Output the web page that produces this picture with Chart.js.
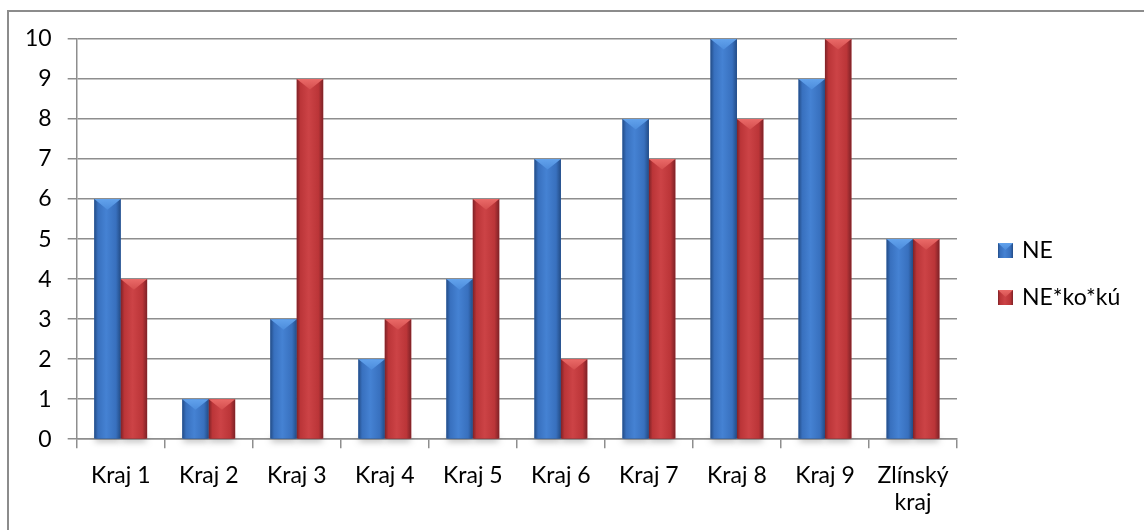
<!DOCTYPE html>
<html>
<head>
<meta charset="utf-8">
<script src="https://cdn.jsdelivr.net/npm/chart.js@4"></script>
<style>
  html, body { margin: 0; padding: 0; background: #fff; }
  #wrap { width: 1144px; height: 530px; }
</style>
</head>
<body>
<div id="wrap"><canvas id="cvs" width="1144" height="530"></canvas></div>
<script>
//-------------------------------------------------------------------
// data
//-------------------------------------------------------------------
const categories = ['Kraj 1', 'Kraj 2', 'Kraj 3', 'Kraj 4', 'Kraj 5',
                    'Kraj 6', 'Kraj 7', 'Kraj 8', 'Kraj 9', ['Zlínský', 'kraj']];
const seriesNames = ['NE', 'NE*ko*kú'];
const valuesNE = [6, 1, 3, 2, 4, 7, 8, 10, 9, 5];
const valuesNEkoku = [4, 1, 9, 3, 6, 2, 7, 8, 10, 5];
const yTicks = [0, 1, 2, 3, 4, 5, 6, 7, 8, 9, 10];

const FONT = 'Lato';
const FONT_SIZE = 23;

// bevel palettes: edge, body, highlight, top facet
const palettes = [
  { edge: '#234c86', body: '#3870be', light: '#4582d3', top: '#62a2ec', topDark: '#4c8cdc' },
  { edge: '#7e2227', body: '#bb3538', light: '#cc4346', top: '#ea6a68', topDark: '#d44e4e' }
];

//-------------------------------------------------------------------
// drawing helpers
//-------------------------------------------------------------------
function drawBevelBar(ctx, left, right, top, bottom, pal, facet) {
  const w = right - left;
  const h = bottom - top;
  if (w <= 0 || h <= 0) return;

  const body = ctx.createLinearGradient(left, 0, right, 0);
  body.addColorStop(0, pal.edge);
  body.addColorStop(0.14, pal.body);
  body.addColorStop(0.45, pal.light);
  body.addColorStop(0.82, pal.body);
  body.addColorStop(1, pal.edge);
  ctx.fillStyle = body;
  ctx.fillRect(left, top, w, h);

  // lighter facet across the top
  const depth = Math.min(h, facet);
  const topGrad = ctx.createLinearGradient(0, top, 0, top + depth);
  topGrad.addColorStop(0, pal.top);
  topGrad.addColorStop(1, pal.topDark);
  ctx.fillStyle = topGrad;
  ctx.beginPath();
  ctx.moveTo(left, top);
  ctx.lineTo(right, top);
  ctx.lineTo(left + w / 2, top + depth);
  ctx.closePath();
  ctx.fill();
}

function makeLegendIcon(pal) {
  const c = document.createElement('canvas');
  c.width = 15; c.height = 15;
  drawBevelBar(c.getContext('2d'), 0, 15, 0, 15, pal, 7);
  return c;
}

//-------------------------------------------------------------------
// plugins
//-------------------------------------------------------------------
const framePlugin = {
  id: 'frame',
  beforeDraw(chart) {
    const ctx = chart.ctx;
    ctx.save();
    ctx.fillStyle = '#ffffff';
    ctx.fillRect(0, 0, chart.width, chart.height);
    ctx.strokeStyle = '#8c8c8c';
    ctx.lineWidth = 2;
    ctx.strokeRect(8, 11, 1300, 700);
    ctx.restore();
  }
};

const bevelPlugin = {
  id: 'bevel',
  afterDatasetsDraw(chart) {
    const ctx = chart.ctx;
    ctx.save();
    chart.data.datasets.forEach((ds, di) => {
      const meta = chart.getDatasetMeta(di);
      meta.data.forEach(bar => {
        const p = bar.getProps(['x', 'y', 'base', 'width'], true);
        const left = p.x - p.width / 2;
        const right = p.x + p.width / 2;
        // soft shadow under the bar foot
        ctx.save();
        ctx.shadowColor = 'rgba(0,0,0,0.35)';
        ctx.shadowBlur = 6;
        ctx.shadowOffsetY = 3;
        ctx.fillStyle = palettes[di].edge;
        ctx.fillRect(left + 1, p.base - 4, p.width - 2, 4);
        ctx.restore();
        drawBevelBar(ctx, left, right, p.y, p.base, palettes[di], p.width * 0.4);
      });
    });
    ctx.restore();
  }
};

const legendPlugin = {
  id: 'sideLegend',
  afterDraw(chart) {
    const ctx = chart.ctx;
    ctx.save();
    ctx.font = FONT_SIZE + 'px ' + FONT;
    ctx.fillStyle = '#000';
    ctx.textBaseline = 'middle';
    chart.data.datasets.forEach((ds, i) => {
      const cy = 250 + i * 47;
      ctx.drawImage(legendIcons[i], 998, cy - 7);
      ctx.fillText(ds.label, 1022, cy + 1);
    });
    ctx.restore();
  }
};

const legendIcons = palettes.map(makeLegendIcon);

//-------------------------------------------------------------------
// chart
//-------------------------------------------------------------------
const gridColor = '#8e8e8e';

new Chart(document.getElementById('cvs'), {
  type: 'bar',
  data: {
    labels: categories,
    datasets: [
      { label: seriesNames[0], data: valuesNE, backgroundColor: palettes[0].body },
      { label: seriesNames[1], data: valuesNEkoku, backgroundColor: palettes[1].body }
    ]
  },
  options: {
    responsive: false,
    animation: false,
    devicePixelRatio: 1,
    datasets: {
      bar: { categoryPercentage: 0.6, barPercentage: 1.0, borderWidth: 0 }
    },
    layout: { padding: { top: 39, left: 9, right: 187, bottom: 0 } },
    plugins: {
      legend: { display: false },
      tooltip: { enabled: false }
    },
    scales: {
      x: {
        grid: {
          display: true,
          offset: true,
          drawOnChartArea: false,
          drawTicks: true,
          tickLength: 9,
          color: gridColor,
          lineWidth: 1.5
        },
        border: { color: gridColor, width: 1.5 },
        ticks: {
          color: '#000',
          padding: 14,
          maxRotation: 0,
          autoSkip: false,
          font: { family: FONT, size: FONT_SIZE, lineHeight: 1.17 }
        }
      },
      y: {
        min: 0,
        max: 10,
        afterBuildTicks(axis) {
          axis.ticks = yTicks.map(v => ({ value: v }));
        },
        grid: {
          color: gridColor,
          lineWidth: 1.5,
          tickLength: 9
        },
        border: { color: gridColor, width: 1.5 },
        ticks: {
          color: '#000',
          padding: 16,
          font: { family: FONT, size: FONT_SIZE }
        }
      }
    }
  },
  plugins: [framePlugin, bevelPlugin, legendPlugin]
});
</script>
</body>
</html>
